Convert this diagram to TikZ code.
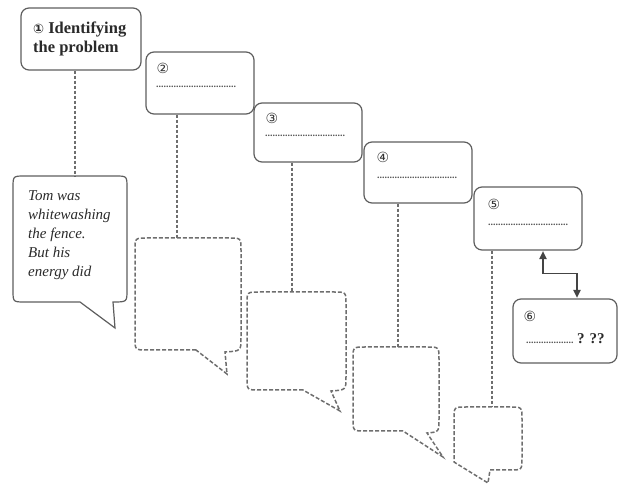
\documentclass[tikz,border=0pt]{standalone}
\usepackage{fontspec}
\setmainfont{Liberation Serif}
\newfontfamily\symfont{DejaVu Sans}
\usetikzlibrary{arrows.meta,calc}
\definecolor{boxgray}{HTML}{5E5E5E}
\definecolor{linegray}{HTML}{6E6E6E}
\definecolor{numgray}{HTML}{333333}
\definecolor{dotgray}{HTML}{555555}
\definecolor{textdark}{HTML}{2A2A2A}
\definecolor{arrgray}{HTML}{444444}
\begin{document}
\begin{tikzpicture}[x=1pt,y=-1pt,
  stepbox/.style={draw=boxgray, line width=1.2pt, rounded corners=8pt, inner sep=0pt},
  conn/.style={draw=linegray, line width=1.3pt, dash pattern=on 3pt off 2pt},
  bubble/.style={draw=linegray, line width=1.5pt, dash pattern=on 4pt off 2pt},
  solidbubble/.style={draw=boxgray, line width=1.2pt},
  num/.style={font=\symfont\fontsize{14}{14}\selectfont, text=numgray, inner sep=0pt},
  dots/.style={font=\bfseries\fontsize{10}{10}\selectfont, text=dotgray, inner sep=0pt, anchor=west},
  arr/.style={draw=arrgray, line width=1.1pt, {Triangle[length=8pt,width=7.5pt]}-{Triangle[length=8pt,width=7.5pt]}}
]
\useasboundingbox (0,0) rectangle (625,486);

% step boxes
\node[stepbox, minimum width=120pt, minimum height=62pt] (s1) at (81,39) {};
\node[stepbox, minimum width=108pt, minimum height=62pt] (s2) at (200,83) {};
\node[stepbox, minimum width=108pt, minimum height=59pt] (s3) at (308,132.5) {};
\node[stepbox, minimum width=108pt, minimum height=61pt] (s4) at (418,172.5) {};
\node[stepbox, minimum width=108pt, minimum height=63pt] (s5) at (528,218.5) {};
\node[stepbox, minimum width=104pt, minimum height=64pt] (s6) at (565,331) {};

% box texts
\node[anchor=base west, align=left, inner sep=0pt, text=textdark,
      font=\bfseries\fontsize{16.5}{19.5}\selectfont] (t1) at (33,53)
      {{\symfont\fontsize{13}{13}\selectfont ①} Identifying\\the problem};
\node[num] (n2) at (163,68) {②};
\node[dots] (d2) at (156,87) {................................};
\node[num] (n3) at (272,118) {③};
\node[dots] (d3) at (265,136) {................................};
\node[num] (n4) at (383,157) {④};
\node[dots] (d4) at (377,178) {................................};
\node[num] (n5) at (494,204) {⑤};
\node[dots] (d5) at (488,225) {................................};
\node[num] (n6) at (530,316) {⑥};
\node[dots] (d6) at (526,339) {................... {\bfseries\fontsize{15}{15}\selectfont\color{textdark}? ??}};

% bubble top points
\coordinate (b1top) at (75,176);
\coordinate (b2top) at (177,238);
\coordinate (b3top) at (292,292);
\coordinate (b4top) at (398,347);
\coordinate (b5top) at (492,407);

% connectors
\draw[conn] (b1top |- s1.south) -- (b1top);
\draw[conn] (b2top |- s2.south) -- (b2top);
\draw[conn] (b3top |- s3.south) -- (b3top);
\draw[conn] (b4top |- s4.south) -- (b4top);
\draw[conn] (b5top |- s5.south) -- (b5top);

% bubble 1 (solid)
\draw[solidbubble] (80,302) -- (25,302) .. controls (13,302) .. (13,290)
  -- (13,188) .. controls (13,176) .. (25,176)
  -- (115,176) .. controls (127,176) .. (127,188)
  -- (127,290) .. controls (127,302) .. (113,302)
  -- (115,328) -- cycle;
\node[anchor=base west, align=left, inner sep=0pt, text=textdark,
      font=\itshape\fontsize{15}{19}\selectfont] (bt1) at (28,277)
      {Tom was\\whitewashing\\the fence.\\But his\\energy did};

% bubble 2
\draw[bubble] (196,350) -- (147,350) .. controls (135,350) .. (135,338)
  -- (135,250) .. controls (135,238) .. (147,238)
  -- (229,238) .. controls (241,238) .. (241,250)
  -- (241,338) .. controls (241,351) .. (225,352)
  -- (227,374) -- cycle;

% bubble 3
\draw[bubble] (303,390) -- (259,390) .. controls (247,390) .. (247,378)
  -- (247,304) .. controls (247,292) .. (259,292)
  -- (334,292) .. controls (346,292) .. (346,304)
  -- (346,377) .. controls (346,390) .. (331,391)
  -- (340,411) -- cycle;

% bubble 4
\draw[bubble] (403,431) -- (365,431) .. controls (353,431) .. (353,419)
  -- (353,359) .. controls (353,347) .. (365,347)
  -- (427,347) .. controls (439,347) .. (439,359)
  -- (439,419) .. controls (439,432) .. (427,433)
  -- (443,457) -- cycle;

% bubble 5
\draw[bubble] (490,470) -- (510,470) .. controls (522,470) .. (522,458)
  -- (522,419) .. controls (522,407) .. (510,407)
  -- (466,407) .. controls (454,407) .. (454,419)
  -- (454,462) -- (488,483) -- cycle;

% arrow between 5 and 6
\coordinate (p5) at (543,0);
\coordinate (p6) at (577,0);
\draw[arr] ($(p5 |- s5.south)+(0,0.6)$) -- ++(0,22.5) -| ($(p6 |- s6.north)+(0,-0.6)$);
\end{tikzpicture}
\end{document}
